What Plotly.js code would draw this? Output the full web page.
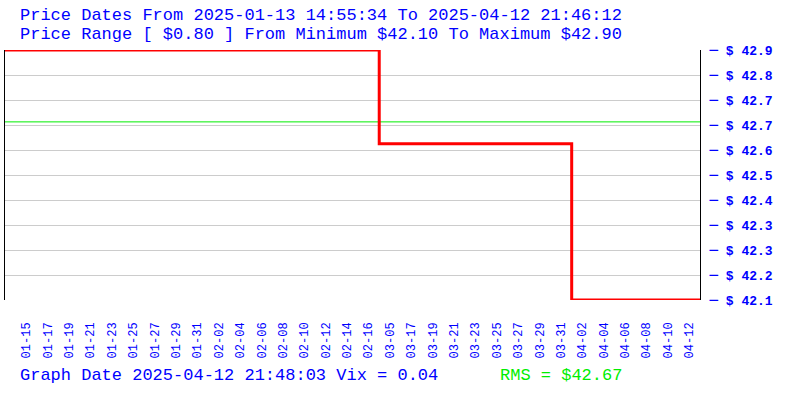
<!DOCTYPE html>
<html>
<head>
<meta charset="utf-8">
<script src="https://cdn.plot.ly/plotly-3.0.1.min.js"></script>
<style>html,body{margin:0;padding:0;background:#fff;}#chart{width:800px;height:400px;}</style>
</head>
<body>
<div id="chart"></div>
<script>
const dates = [
  "01-13","01-14","01-15","01-16","01-17","01-18","01-19","01-20","01-21","01-22",
  "01-23","01-24","01-25","01-26","01-27","01-28","01-29","01-30","01-31","02-01",
  "02-02","02-03","02-04","02-05","02-06","02-07","02-08","02-09","02-10","02-11",
  "02-12","02-13","02-14","02-15","02-16","02-17","03-05","03-11","03-17","03-18",
  "03-19","03-20","03-21","03-22","03-23","03-24","03-25","03-26","03-27","03-28",
  "03-29","03-30","03-31","04-01","04-02","04-03","04-04","04-05","04-06","04-07",
  "04-08","04-09","04-10","04-11","04-12","04-12 21:46"
];
const prices = [
  42.90,42.90,42.90,42.90,42.90,42.90,42.90,42.90,42.90,42.90,
  42.90,42.90,42.90,42.90,42.90,42.90,42.90,42.90,42.90,42.90,
  42.90,42.90,42.90,42.90,42.90,42.90,42.90,42.90,42.90,42.90,
  42.90,42.90,42.90,42.90,42.90,42.60,42.60,42.60,42.60,42.60,
  42.60,42.60,42.60,42.60,42.60,42.60,42.60,42.60,42.60,42.60,
  42.60,42.60,42.60,42.10,42.10,42.10,42.10,42.10,42.10,42.10,
  42.10,42.10,42.10,42.10,42.10,42.10
];
const xTickLabels = [
  "01-15","01-17","01-19","01-21","01-23","01-25","01-27","01-29","01-31","02-02",
  "02-04","02-06","02-08","02-10","02-12","02-14","02-16","03-05","03-17","03-19",
  "03-21","03-23","03-25","03-27","03-29","03-31","04-02","04-04","04-06","04-08",
  "04-10","04-12"
];
const yTickVals = [42.10,42.18,42.26,42.34,42.42,42.50,42.58,42.66,42.74,42.82,42.90];
const yTickLabels = ["42.1","42.2","42.3","42.3","42.4","42.5","42.6","42.7","42.7","42.8","42.9"];
const rms = 42.67;
const titleLine1 = "Price Dates From 2025-01-13 14:55:34 To 2025-04-12 21:46:12";
const titleLine2 = "Price Range [ $0.80 ] From Minimum $42.10 To Maximum $42.90";
const footerLeft = "Graph Date 2025-04-12 21:48:03 Vix = 0.04";
const footerRight = "RMS = $42.67";

const BLUE = "#0000ff";
const MONO = "Liberation Mono, DejaVu Sans Mono, monospace";
const DASH = "<span style='font-family:DejaVu Sans Mono;font-size:14px;font-weight:normal'>\u2500</span>";

const traces = [
  {
    x: dates, y: dates.map(() => rms), type: "scatter", mode: "lines",
    line: {color: "#00ee00", width: 1}, hoverinfo: "skip"
  },
  {
    x: dates, y: prices, type: "scatter", mode: "lines",
    line: {color: "#ff0000", width: 3, shape: "hv"}
  }
];

const layout = {
  width: 800, height: 400,
  margin: {l: 5, r: 100, t: 50, b: 100},
  paper_bgcolor: "#ffffff", plot_bgcolor: "#ffffff",
  showlegend: false,
  xaxis: {
    type: "category",
    range: [0, dates.length - 1],
    tickvals: xTickLabels, ticktext: xTickLabels,
    tickangle: -90,
    tickfont: {family: MONO, size: 12, color: BLUE},
    showgrid: false, zeroline: false, showline: false,
    ticks: "", ticklabelstandoff: 19,
    fixedrange: true
  },
  yaxis: {
    side: "right",
    range: [42.10, 42.90],
    tickvals: yTickVals,
    ticktext: yTickLabels.map(t => DASH + " $ " + t),
    tickfont: {family: MONO, size: 13, color: BLUE, weight: "bold"},
    showgrid: true, gridcolor: "#cccccc", gridwidth: 1,
    zeroline: false,
    showline: true, linecolor: "#000000", linewidth: 1, mirror: true,
    ticks: "", ticklabelstandoff: 6,
    fixedrange: true
  },
  annotations: [
    {text: titleLine1, xref: "paper", yref: "paper", x: 0.019, y: 1.14, xanchor: "left", yanchor: "middle",
     showarrow: false, font: {family: MONO, size: 17, color: BLUE}},
    {text: titleLine2, xref: "paper", yref: "paper", x: 0.019, y: 1.06, xanchor: "left", yanchor: "middle",
     showarrow: false, font: {family: MONO, size: 17, color: BLUE}},
    {text: footerLeft, xref: "paper", yref: "paper", x: 0.019, y: -0.30, xanchor: "left", yanchor: "middle",
     showarrow: false, font: {family: MONO, size: 17, color: BLUE}},
    {text: footerRight, xref: "paper", yref: "paper", x: 0.71, y: -0.30, xanchor: "left", yanchor: "middle",
     showarrow: false, font: {family: MONO, size: 17, color: "#00ee00"}}
  ]
};

Plotly.newPlot("chart", traces, layout, {staticPlot: true, displayModeBar: false});
</script>
</body>
</html>
